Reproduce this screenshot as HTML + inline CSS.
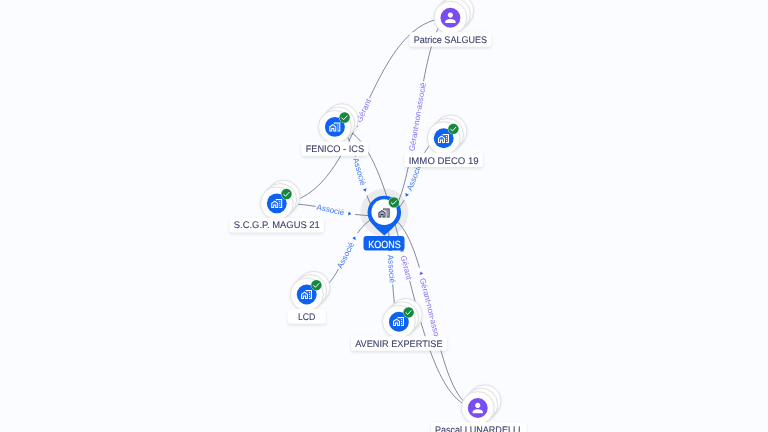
<!DOCTYPE html>
<html lang="fr"><head><meta charset="utf-8"><title>KOONS</title>
<style>
html,body{margin:0;padding:0;background:#fafcff;}
body{width:768px;height:432px;overflow:hidden;}
svg{display:block;will-change:transform;text-rendering:geometricPrecision;font-family:"Liberation Sans",sans-serif;}
</style></head><body>
<svg width="768" height="432" viewBox="0 0 768 432">
<defs>
<filter id="ls" x="-20%" y="-50%" width="140%" height="220%"><feDropShadow dx="0" dy="1.5" stdDeviation="1.6" flood-color="#1a2240" flood-opacity="0.13"/></filter>
<filter id="cs" x="-20%" y="-20%" width="140%" height="140%"><feDropShadow dx="0" dy="0.5" stdDeviation="0.8" flood-color="#1a2240" flood-opacity="0.10"/></filter>
<path id="e0" d="M276.8,203.4C363.6,203.4 363.6,17.7 450.4,17.7"/>
<path id="e1" d="M384.3,216C417.35,216 417.35,17.7 450.4,17.7"/>
<path id="e2" d="M334.9,126.9C359.6,126.9 359.6,216 384.3,216"/>
<path id="e3" d="M384.3,216C414,216 414,138.2 443.7,138.2"/>
<path id="e4" d="M276.8,203.4C330.55,203.4 330.55,216 384.3,216"/>
<path id="e5" d="M306.7,294.5C345.5,294.5 345.5,216 384.3,216"/>
<path id="e6" d="M384.3,216C391.6,216 391.6,321.7 398.9,321.7"/>
<path id="e7" d="M334.9,126.9C406.32,126.9 406.32,408 477.75,408"/>
<path id="e8" d="M384.3,216C431.02,216 431.02,408 477.75,408"/>
</defs>
<rect width="768" height="432" fill="#fafcff"/>
<circle cx="384.3" cy="212.5" r="24" fill="#eaebee"/>
<g>
<path d="M450.4,17.7C363.6,17.7 363.6,203.4 276.8,203.4" fill="none" stroke="#3c4160" stroke-width="0.62" stroke-dasharray="120.77 36.96 269"/>
<text font-size="8.0" fill="#8a6df4" text-anchor="middle" dy="2.8"><textPath href="#e0" startOffset="134.5">Gérant</textPath></text>
<path d="M1.6,0L-1.4,-2L-1.4,2Z" fill="#7150f0" transform="translate(356.01,126.63) rotate(115.65)"/>
<path d="M450.4,17.7C417.35,17.7 417.35,216 384.3,216" fill="none" stroke="#3c4160" stroke-width="0.62" stroke-dasharray="71.99 81.87 216.35"/>
<text font-size="8.0" fill="#8a6df4" text-anchor="middle" dy="2.8"><textPath href="#e1" startOffset="108.18">Gérant non associé</textPath></text>
<path d="M415.99,125.02L415.71,126.65" stroke="#3c4160" stroke-width="0.62" fill="none"/>
<path d="M418.54,109.72L418.29,111.2" stroke="#3c4160" stroke-width="0.62" fill="none"/>
<path d="M1.6,0L-1.4,-2L-1.4,2Z" fill="#7150f0" transform="translate(410.39,156.58) rotate(100.96)"/>
<path d="M334.9,126.9C359.6,126.9 359.6,216 384.3,216" fill="none" stroke="#3c4160" stroke-width="0.62" stroke-dasharray="38.11 40.51 107.22"/>
<text font-size="8.0" fill="#4377f2" text-anchor="middle" dy="2.8"><textPath href="#e2" startOffset="53.61">Associé</textPath></text>
<path d="M1.6,0L-1.4,-2L-1.4,2Z" fill="#2264ec" transform="translate(365.12,190.29) rotate(71.83)"/>
<path d="M443.7,138.2C414,138.2 414,216 384.3,216" fill="none" stroke="#3c4160" stroke-width="0.62" stroke-dasharray="36.3 40.51 103.6"/>
<text font-size="8.0" fill="#4377f2" text-anchor="middle" dy="2.8"><textPath href="#e3" startOffset="51.8">Associé</textPath></text>
<path d="M1.6,0L-1.4,-2L-1.4,2Z" fill="#2264ec" transform="translate(406.58,195.24) rotate(115.18)"/>
<path d="M276.8,203.4C330.55,203.4 330.55,216 384.3,216" fill="none" stroke="#3c4160" stroke-width="0.62" stroke-dasharray="38.77 40.51 108.54"/>
<text font-size="8.0" fill="#4377f2" text-anchor="middle" dy="2.8"><textPath href="#e4" startOffset="54.27">Associé</textPath></text>
<path d="M1.6,0L-1.4,-2L-1.4,2Z" fill="#2264ec" transform="translate(349.77,213.64) rotate(8.89)"/>
<path d="M306.7,294.5C345.5,294.5 345.5,216 384.3,216" fill="none" stroke="#3c4160" stroke-width="0.62" stroke-dasharray="42.86 40.51 116.73"/>
<text font-size="8.0" fill="#4377f2" text-anchor="middle" dy="2.8"><textPath href="#e5" startOffset="58.36">Associé</textPath></text>
<path d="M1.6,0L-1.4,-2L-1.4,2Z" fill="#2264ec" transform="translate(354.62,237.9) rotate(-59.25)"/>
<path d="M398.9,321.7C391.6,321.7 391.6,216 384.3,216" fill="none" stroke="#3c4160" stroke-width="0.62" stroke-dasharray="38.47 40.51 107.95"/>
<text font-size="8.0" fill="#4377f2" text-anchor="middle" dy="2.8"><textPath href="#e6" startOffset="53.97">Associé</textPath></text>
<path d="M1.6,0L-1.4,-2L-1.4,2Z" fill="#2264ec" transform="translate(390.19,249.3) rotate(-94.48)"/>
<path d="M477.75,408C406.32,408 406.32,126.9 334.9,126.9" fill="none" stroke="#3c4160" stroke-width="0.62" stroke-dasharray="151.79 36.96 331.03"/>
<text font-size="8.0" fill="#8a6df4" text-anchor="middle" dy="2.8"><textPath href="#e7" startOffset="165.52">Gérant</textPath></text>
<path d="M1.6,0L-1.4,-2L-1.4,2Z" fill="#7150f0" transform="translate(401.92,250.2) rotate(-104.44)"/>
<path d="M477.75,408C431.02,408 431.02,216 384.3,216" fill="none" stroke="#3c4160" stroke-width="0.62" stroke-dasharray="75.76 81.87 223.88"/>
<text font-size="8.0" fill="#8a6df4" text-anchor="middle" dy="2.8"><textPath href="#e8" startOffset="111.94">Gérant non associé</textPath></text>
<path d="M429.06,303.94L428.67,302.37" stroke="#3c4160" stroke-width="0.62" fill="none"/>
<path d="M432.74,319.05L432.36,317.47" stroke="#3c4160" stroke-width="0.62" fill="none"/>
<path d="M1.6,0L-1.4,-2L-1.4,2Z" fill="#7150f0" transform="translate(421.03,273) rotate(-105.86)"/>
</g>
<g><circle cx="457.3" cy="10.9" r="16.4" fill="#fff" stroke="#d8d8da" stroke-width="0.8" filter="url(#cs)"/><circle cx="453.85" cy="14.3" r="16.4" fill="#fff" stroke="#d8d8da" stroke-width="0.8" filter="url(#cs)"/><circle cx="450.4" cy="17.7" r="16.4" fill="#fff" stroke="#d8d8da" stroke-width="0.8" filter="url(#cs)"/><circle cx="450.4" cy="17.7" r="9.95" fill="#7a4df0"/><g transform="translate(442.6,9.9) scale(0.65)" fill="#fff"><path d="M12 12c2.21 0 4-1.79 4-4s-1.79-4-4-4-4 1.79-4 4 1.79 4 4 4zm0 2c-2.67 0-8 1.34-8 4v2h16v-2c0-2.660-5.330-4-8-4z"/></g><rect x="409.55" y="32.3" width="81.7" height="14.3" rx="3.2" fill="#fff" filter="url(#ls)"/><text x="450.4" y="42.75" font-size="9.6" fill="#3a3f6b" stroke="#3a3f6b" stroke-width="0.1" text-anchor="middle" textLength="73.5" lengthAdjust="spacingAndGlyphs">Patrice SALGUES</text></g>
<g><circle cx="341.8" cy="120.1" r="16.4" fill="#fff" stroke="#d8d8da" stroke-width="0.8" filter="url(#cs)"/><circle cx="338.35" cy="123.5" r="16.4" fill="#fff" stroke="#d8d8da" stroke-width="0.8" filter="url(#cs)"/><circle cx="334.9" cy="126.9" r="16.4" fill="#fff" stroke="#d8d8da" stroke-width="0.8" filter="url(#cs)"/><circle cx="334.9" cy="126.9" r="9.95" fill="#0d62f0"/><g transform="translate(328.8,121.1) scale(0.5)" fill="#fff"><path d="M17 11h2v2h-2v2h2v2h-2v2h4V5h-9v1.4l5 3.570V11zm0-4h2v2h-2V7z" opacity="0.16"/><path d="M10 3v1.970l.96.69L12 6.400V5h9v14h-4v2h6V3z"/><path d="M3 12v7h2v-5h6v5h2v-7L8 8.500z" opacity="0.16"/><path d="M17 7h2v2h-2zm0 4h2v2h-2zm0 4h2v2h-2zM1 11v10h6v-5h2v5h6V11L8 6l-7 5zm12 8h-2v-5H5v5H3v-7l5-3.500 5 3.500v7z"/></g><circle cx="344.6" cy="117.5" r="5.55" fill="#c4eed2"/><circle cx="344.6" cy="117.5" r="5.15" fill="#17873f"/><path d="M341.9,118L343.7,119.6L347.1,115.9" fill="none" stroke="#fff" stroke-width="1" stroke-linecap="round" stroke-linejoin="round"/><rect x="301.55" y="141.5" width="66.7" height="14.3" rx="3.2" fill="#fff" filter="url(#ls)"/><text x="334.9" y="151.7" font-size="9.6" fill="#3a3f6b" stroke="#3a3f6b" stroke-width="0.1" text-anchor="middle" textLength="58.5" lengthAdjust="spacingAndGlyphs">FENICO - ICS</text></g>
<g><circle cx="450.6" cy="131.4" r="16.4" fill="#fff" stroke="#d8d8da" stroke-width="0.8" filter="url(#cs)"/><circle cx="447.15" cy="134.8" r="16.4" fill="#fff" stroke="#d8d8da" stroke-width="0.8" filter="url(#cs)"/><circle cx="443.7" cy="138.2" r="16.4" fill="#fff" stroke="#d8d8da" stroke-width="0.8" filter="url(#cs)"/><circle cx="443.7" cy="138.2" r="9.95" fill="#0d62f0"/><g transform="translate(437.5,132.5) scale(0.5)" fill="#fff"><path d="M17 11h2v2h-2v2h2v2h-2v2h4V5h-9v1.4l5 3.570V11zm0-4h2v2h-2V7z" opacity="0.16"/><path d="M10 3v1.970l.96.69L12 6.400V5h9v14h-4v2h6V3z"/><path d="M3 12v7h2v-5h6v5h2v-7L8 8.500z" opacity="0.16"/><path d="M17 7h2v2h-2zm0 4h2v2h-2zm0 4h2v2h-2zM1 11v10h6v-5h2v5h6V11L8 6l-7 5zm12 8h-2v-5H5v5H3v-7l5-3.500 5 3.500v7z"/></g><circle cx="453.4" cy="128.8" r="5.55" fill="#c4eed2"/><circle cx="453.4" cy="128.8" r="5.15" fill="#17873f"/><path d="M450.7,129.3L452.5,130.9L455.9,127.2" fill="none" stroke="#fff" stroke-width="1" stroke-linecap="round" stroke-linejoin="round"/><rect x="404.6" y="152.8" width="78.2" height="14.3" rx="3.2" fill="#fff" filter="url(#ls)"/><text x="443.7" y="163.7" font-size="9.6" fill="#3a3f6b" stroke="#3a3f6b" stroke-width="0.1" text-anchor="middle" textLength="70" lengthAdjust="spacingAndGlyphs">IMMO DECO 19</text></g>
<g><circle cx="283.7" cy="196.6" r="16.4" fill="#fff" stroke="#d8d8da" stroke-width="0.8" filter="url(#cs)"/><circle cx="280.25" cy="200" r="16.4" fill="#fff" stroke="#d8d8da" stroke-width="0.8" filter="url(#cs)"/><circle cx="276.8" cy="203.4" r="16.4" fill="#fff" stroke="#d8d8da" stroke-width="0.8" filter="url(#cs)"/><circle cx="276.8" cy="203.4" r="9.95" fill="#0d62f0"/><g transform="translate(270.7,197.5) scale(0.5)" fill="#fff"><path d="M17 11h2v2h-2v2h2v2h-2v2h4V5h-9v1.4l5 3.570V11zm0-4h2v2h-2V7z" opacity="0.16"/><path d="M10 3v1.970l.96.69L12 6.400V5h9v14h-4v2h6V3z"/><path d="M3 12v7h2v-5h6v5h2v-7L8 8.500z" opacity="0.16"/><path d="M17 7h2v2h-2zm0 4h2v2h-2zm0 4h2v2h-2zM1 11v10h6v-5h2v5h6V11L8 6l-7 5zm12 8h-2v-5H5v5H3v-7l5-3.500 5 3.500v7z"/></g><circle cx="286.5" cy="194" r="5.55" fill="#c4eed2"/><circle cx="286.5" cy="194" r="5.15" fill="#17873f"/><path d="M283.8,194.5L285.6,196.1L289,192.4" fill="none" stroke="#fff" stroke-width="1" stroke-linecap="round" stroke-linejoin="round"/><rect x="229.7" y="218" width="94.2" height="14.3" rx="3.2" fill="#fff" filter="url(#ls)"/><text x="276.8" y="228.45" font-size="9.6" fill="#3a3f6b" stroke="#3a3f6b" stroke-width="0.1" text-anchor="middle" textLength="86" lengthAdjust="spacingAndGlyphs">S.C.G.P. MAGUS 21</text></g>
<g><path d="M384.3,235.5Q376.03,229.12 371.1,222.81A16.75,16.75 0 1 1 397.5,222.81Q392.57,229.12 384.3,235.5Z" fill="#0d62f0"/><circle cx="384.2" cy="212.1" r="12.8" fill="#fff"/><g transform="translate(377.88,206.88) scale(0.51)" fill="#2c3050"><path d="M17 11h2v2h-2v2h2v2h-2v2h4V5h-9v1.4l5 3.570V11zm0-4h2v2h-2V7z" opacity="0.42"/><path d="M10 3v1.970l.96.69L12 6.400V5h9v14h-4v2h6V3z"/><path d="M3 12v7h2v-5h6v5h2v-7L8 8.500z" opacity="0.42"/><path d="M17 7h2v2h-2zm0 4h2v2h-2zm0 4h2v2h-2zM1 11v10h6v-5h2v5h6V11L8 6l-7 5zm12 8h-2v-5H5v5H3v-7l5-3.500 5 3.500v7z"/></g><circle cx="393.9" cy="202.3" r="5.55" fill="#c4eed2"/><circle cx="393.9" cy="202.3" r="5.15" fill="#17873f"/><path d="M391.2,202.8L393,204.4L396.4,200.7" fill="none" stroke="#fff" stroke-width="1" stroke-linecap="round" stroke-linejoin="round"/><rect x="363.5" y="236" width="41" height="14.6" rx="3" fill="#0d62f0"/><text x="384.5" y="248.15" font-size="10.3" fill="#fff" stroke="#fff" stroke-width="0.15" text-anchor="middle" textLength="32.5" lengthAdjust="spacingAndGlyphs">KOONS</text></g>
<g><circle cx="313.6" cy="287.7" r="16.4" fill="#fff" stroke="#d8d8da" stroke-width="0.8" filter="url(#cs)"/><circle cx="310.15" cy="291.1" r="16.4" fill="#fff" stroke="#d8d8da" stroke-width="0.8" filter="url(#cs)"/><circle cx="306.7" cy="294.5" r="16.4" fill="#fff" stroke="#d8d8da" stroke-width="0.8" filter="url(#cs)"/><circle cx="306.7" cy="294.5" r="9.95" fill="#0d62f0"/><g transform="translate(300.5,288.5) scale(0.5)" fill="#fff"><path d="M17 11h2v2h-2v2h2v2h-2v2h4V5h-9v1.4l5 3.570V11zm0-4h2v2h-2V7z" opacity="0.16"/><path d="M10 3v1.970l.96.69L12 6.400V5h9v14h-4v2h6V3z"/><path d="M3 12v7h2v-5h6v5h2v-7L8 8.500z" opacity="0.16"/><path d="M17 7h2v2h-2zm0 4h2v2h-2zm0 4h2v2h-2zM1 11v10h6v-5h2v5h6V11L8 6l-7 5zm12 8h-2v-5H5v5H3v-7l5-3.500 5 3.500v7z"/></g><circle cx="316.4" cy="285.1" r="5.55" fill="#c4eed2"/><circle cx="316.4" cy="285.1" r="5.15" fill="#17873f"/><path d="M313.7,285.6L315.5,287.2L318.9,283.5" fill="none" stroke="#fff" stroke-width="1" stroke-linecap="round" stroke-linejoin="round"/><rect x="287.8" y="309.1" width="37.8" height="14.3" rx="3.2" fill="#fff" filter="url(#ls)"/><text x="306.7" y="319.7" font-size="9.6" fill="#3a3f6b" stroke="#3a3f6b" stroke-width="0.1" text-anchor="middle" textLength="17.5" lengthAdjust="spacingAndGlyphs">LCD</text></g>
<g><circle cx="405.8" cy="314.9" r="16.4" fill="#fff" stroke="#d8d8da" stroke-width="0.8" filter="url(#cs)"/><circle cx="402.35" cy="318.3" r="16.4" fill="#fff" stroke="#d8d8da" stroke-width="0.8" filter="url(#cs)"/><circle cx="398.9" cy="321.7" r="16.4" fill="#fff" stroke="#d8d8da" stroke-width="0.8" filter="url(#cs)"/><circle cx="398.9" cy="321.7" r="9.95" fill="#0d62f0"/><g transform="translate(392.5,315.5) scale(0.5)" fill="#fff"><path d="M17 11h2v2h-2v2h2v2h-2v2h4V5h-9v1.4l5 3.570V11zm0-4h2v2h-2V7z" opacity="0.16"/><path d="M10 3v1.970l.96.69L12 6.400V5h9v14h-4v2h6V3z"/><path d="M3 12v7h2v-5h6v5h2v-7L8 8.500z" opacity="0.16"/><path d="M17 7h2v2h-2zm0 4h2v2h-2zm0 4h2v2h-2zM1 11v10h6v-5h2v5h6V11L8 6l-7 5zm12 8h-2v-5H5v5H3v-7l5-3.500 5 3.500v7z"/></g><circle cx="408.6" cy="312.3" r="5.55" fill="#c4eed2"/><circle cx="408.6" cy="312.3" r="5.15" fill="#17873f"/><path d="M405.9,312.8L407.7,314.4L411.1,310.7" fill="none" stroke="#fff" stroke-width="1" stroke-linecap="round" stroke-linejoin="round"/><rect x="351.05" y="336.3" width="95.7" height="14.3" rx="3.2" fill="#fff" filter="url(#ls)"/><text x="398.9" y="346.5" font-size="9.6" fill="#3a3f6b" stroke="#3a3f6b" stroke-width="0.1" text-anchor="middle" textLength="87.5" lengthAdjust="spacingAndGlyphs">AVENIR EXPERTISE</text></g>
<g><circle cx="484.65" cy="401.2" r="16.4" fill="#fff" stroke="#d8d8da" stroke-width="0.8" filter="url(#cs)"/><circle cx="481.2" cy="404.6" r="16.4" fill="#fff" stroke="#d8d8da" stroke-width="0.8" filter="url(#cs)"/><circle cx="477.75" cy="408" r="16.4" fill="#fff" stroke="#d8d8da" stroke-width="0.8" filter="url(#cs)"/><circle cx="477.75" cy="408" r="9.95" fill="#7a4df0"/><g transform="translate(469.95,400.2) scale(0.65)" fill="#fff"><path d="M12 12c2.21 0 4-1.79 4-4s-1.79-4-4-4-4 1.79-4 4 1.79 4 4 4zm0 2c-2.67 0-8 1.34-8 4v2h16v-2c0-2.660-5.330-4-8-4z"/></g><rect x="431.05" y="422.6" width="95" height="14.3" rx="3.2" fill="#fff" filter="url(#ls)"/><text x="477.75" y="433.05" font-size="9.6" fill="#3a3f6b" stroke="#3a3f6b" stroke-width="0.1" text-anchor="middle" textLength="85.6" lengthAdjust="spacingAndGlyphs">Pascal LUNARDELLI</text></g>
</svg>
</body></html>
